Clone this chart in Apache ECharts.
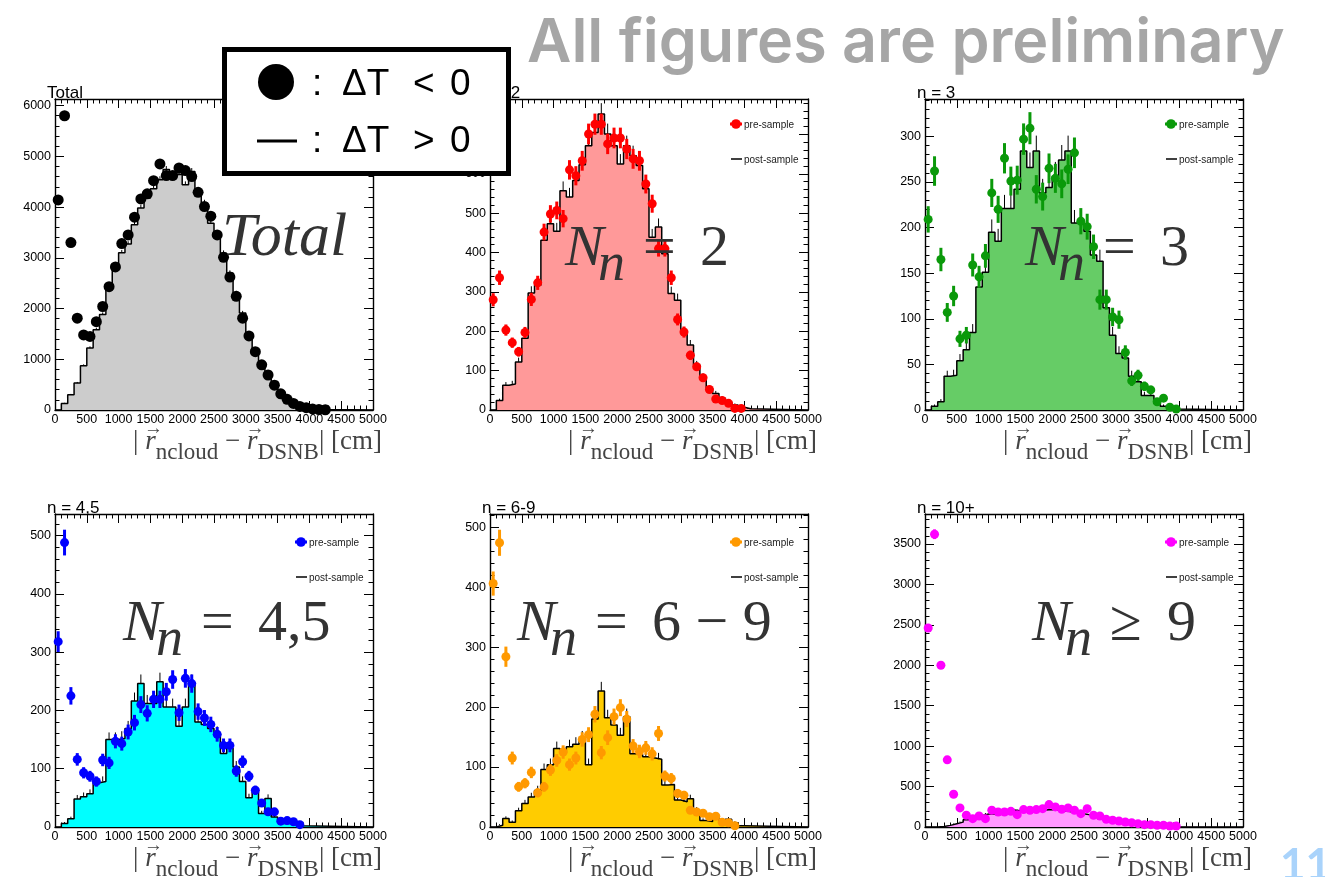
<!DOCTYPE html>
<html>
<head>
<meta charset="utf-8">
<script src="https://cdn.jsdelivr.net/npm/echarts@6/dist/echarts.min.js"></script>
<style>
  html, body { margin: 0; padding: 0; background: #fff; }
  #chart { width: 1325px; height: 877px; }
</style>
</head>
<body>
<div id="chart"></div>
<script>
// Histograms of |r_ncloud - r_DSNB| in 100 cm bins, one array per neutron multiplicity.
// "pre" = ΔT < 0 sample (points), "post" = ΔT > 0 sample (filled step histogram).
const BIN_WIDTH = 100;
const X_MAX = 5000;

const totalPre  = [4140, 5800, 3300, 1810, 1480, 1450, 1740, 2040, 2430, 2820, 3280, 3450, 3800, 4160, 4260, 4520, 4850, 4620, 4620, 4770, 4720, 4600, 4290, 4010, 3820, 3450, 3010, 2620, 2240, 1810, 1460, 1150, 890, 690, 490, 320, 210, 130, 70, 45, 20, 10, 5];
const totalPost = [0, 130, 300, 530, 870, 1220, 1580, 1880, 2400, 2760, 3100, 3270, 3650, 3980, 4180, 4360, 4540, 4740, 4600, 4640, 4440, 4700, 4310, 4080, 3680, 3420, 3090, 2700, 2300, 1910, 1450, 1180, 920, 760, 560, 360, 250, 160, 100, 55, 35, 20, 10];

const n2Pre  = [280, 336, 203, 171, 148, 197, 281, 323, 452, 498, 507, 486, 610, 595, 633, 701, 726, 726, 676, 691, 691, 663, 638, 633, 574, 524, 410, 410, 336, 230, 198, 139, 110, 82, 52, 28, 24, 17, 4, 4];
const n2Post = [0, 24, 63, 66, 122, 182, 297, 317, 431, 473, 454, 557, 541, 583, 623, 671, 705, 752, 701, 671, 625, 671, 646, 621, 562, 439, 465, 397, 296, 279, 194, 165, 114, 84, 55, 42, 30, 21, 13, 7, 3];

const n3Pre  = [209, 262, 165, 107, 125, 78, 82, 159, 146, 169, 238, 220, 276, 251, 252, 297, 309, 242, 234, 265, 254, 248, 264, 282, 207, 201, 179, 121, 121, 102, 99, 63, 32, 38, 26, 22, 9, 13, 3, 1];
const n3Post = [0, 4, 9, 37, 38, 54, 66, 85, 135, 151, 195, 185, 221, 221, 242, 284, 266, 284, 238, 244, 256, 274, 284, 205, 205, 196, 170, 163, 112, 82, 62, 57, 37, 31, 16, 16, 7, 4, 2, 1];

const n45Pre  = [318, 488, 225, 116, 93, 87, 78, 115, 110, 147, 143, 163, 179, 210, 195, 219, 219, 232, 253, 196, 255, 246, 198, 187, 176, 159, 140, 140, 96, 112, 87, 63, 41, 26, 26, 10, 11, 9, 4];
const n45Post = [0, 6, 14, 48, 52, 57, 76, 78, 150, 150, 152, 169, 216, 246, 212, 212, 249, 206, 206, 173, 206, 246, 180, 176, 169, 160, 126, 135, 103, 78, 50, 60, 23, 49, 17, 11, 6, 4, 2];

const n69Pre  = [406, 474, 284, 115, 67, 73, 91, 57, 67, 95, 111, 125, 104, 115, 146, 154, 188, 124, 149, 184, 199, 180, 135, 126, 132, 122, 156, 85, 81, 56, 53, 28, 25, 23, 17, 18, 8, 7, 2];
const n69Post = [0, 3, 14, 8, 27, 39, 50, 61, 96, 104, 131, 124, 134, 138, 148, 104, 180, 227, 182, 170, 153, 184, 122, 121, 117, 115, 113, 70, 71, 45, 42, 47, 28, 11, 9, 17, 9, 13, 7, 2];

const n10Pre  = [2460, 3620, 2000, 830, 405, 236, 145, 103, 136, 103, 207, 186, 186, 194, 153, 215, 207, 215, 227, 277, 248, 219, 236, 207, 165, 227, 145, 136, 95, 83, 74, 62, 54, 41, 29, 29, 21, 21, 12, 12];
const n10Post = [0, 0, 5, 20, 40, 60, 90, 110, 140, 160, 160, 180, 200, 210, 200, 215, 205, 215, 210, 215, 210, 200, 190, 175, 165, 150, 130, 110, 90, 75, 65, 55, 45, 35, 25, 20, 15, 10, 6, 3];

const panelTitles = ['Total', 'n = 2', 'n = 3', 'n = 4,5', 'n = 6-9', 'n = 10+'];
const yMaxes      = [6130, 790, 341, 537, 522, 3870];
const yIntervals  = [1000, 100, 50, 100, 100, 500];
const legendLabels = ['pre-sample', 'post-sample'];
const multiplicityLabels = [null, ['=', '2'], ['=', '3'], ['=', '4,5'], ['=', '6 \u2212 9'], ['\u2265', '9']];

const preSets  = [totalPre, n2Pre, n3Pre, n45Pre, n69Pre, n10Pre];
const postSets = [totalPost, n2Post, n3Post, n45Post, n69Post, n10Post];

// ---- styling / layout ----
const fills   = ['#cccccc', '#ff9999', '#66cc66', '#00ffff', '#ffcc00', '#ff99ff'];
const markers = ['#000000', '#ff0000', '#0a990a', '#0000ff', '#ff9900', '#ff00ff'];
const colLeft = [55, 490, 925];
const PANEL_W = 318;
const rowBox  = [{ top: 99, height: 311 }, { top: 514, height: 313 }];
// big label anchor (left x, baseline) per panel
const bigAnchor = [[222, 255], [565, 265], [1025, 265], [123, 640], [517, 640], [1032, 640]];

const SANS = '"Liberation Sans", Arial, Helvetica, sans-serif';
const SERIF = '"Liberation Serif", "Times New Roman", serif';

const mctx = document.createElement('canvas').getContext('2d');
function textWidth(s, font) { mctx.font = font; return mctx.measureText(s).width; }
function midLift(font) {
  mctx.font = font;
  mctx.textBaseline = 'alphabetic';
  const a = mctx.measureText('H').fontBoundingBoxAscent;
  mctx.textBaseline = 'middle';
  const m = mctx.measureText('H').fontBoundingBoxAscent;
  mctx.textBaseline = 'alphabetic';
  const d = a - m;
  if (isFinite(d)) return d;
  return 0.3 * parseFloat(font.match(/([\d.]+)px/)[1]);
}
// text element positioned by its alphabetic baseline
function txt(text, x, baseline, font, fill, align, z) {
  return {
    type: 'text', x: x, y: baseline - midLift(font), z: z || 50, silent: true,
    style: { text: text, font: font, fill: fill, textAlign: align || 'left', textVerticalAlign: 'middle' }
  };
}

const grids = [], xAxes = [], yAxes = [], series = [], graphics = [];

function axisBase(max, interval, showLabel, labelMargin) {
  return {
    type: 'value', min: 0, max: max, interval: interval,
    axisLine: { show: true, onZero: false, lineStyle: { color: '#000', width: 1.4 } },
    axisTick: { show: true, inside: true, length: 9, lineStyle: { color: '#000', width: 1 } },
    minorTick: { show: true, splitNumber: 5, length: 4.5, lineStyle: { color: '#000', width: 1 } },
    splitLine: { show: false }, minorSplitLine: { show: false },
    axisLabel: {
      show: showLabel, color: '#000', fontFamily: SANS, fontSize: 12.5, margin: labelMargin,
      // plain integers, only on multiples of the tick step
      formatter: v => (Math.abs(v / interval - Math.round(v / interval)) < 1e-6 ? String(Math.round(v)) : '')
    }
  };
}

for (let i = 0; i < 6; i++) {
  const left = colLeft[i % 3];
  const rb = rowBox[Math.floor(i / 3)];
  grids.push({ left: left, top: rb.top, width: PANEL_W, height: rb.height, containLabel: false });

  xAxes.push(Object.assign(axisBase(X_MAX, 500, true, 3), { gridIndex: i, position: 'bottom' }));
  xAxes.push(Object.assign(axisBase(X_MAX, 500, false, 3), { gridIndex: i, position: 'top' }));
  yAxes.push(Object.assign(axisBase(yMaxes[i], yIntervals[i], true, 4), { gridIndex: i, position: 'left' }));
  yAxes.push(Object.assign(axisBase(yMaxes[i], yIntervals[i], false, 4), { gridIndex: i, position: 'right' }));

  const xi = 2 * i, yi = 2 * i;
  const pre = preSets[i], post = postSets[i];

  // step outline of the post-sample histogram
  const steps = [];
  post.forEach((v, b) => { steps.push([b * BIN_WIDTH, v]); steps.push([(b + 1) * BIN_WIDTH, v]); });
  steps.push([post.length * BIN_WIDTH, 0]);
  steps.push([X_MAX, 0]);

  series.push({
    type: 'line', xAxisIndex: xi, yAxisIndex: yi, data: steps, showSymbol: false, symbol: 'none',
    lineStyle: { color: '#000', width: 1.5 }, areaStyle: { color: fills[i], opacity: 1 },
    z: 2, silent: true, animation: false
  });

  // Poisson error bars on the histogram (thin black, lower half sits under the fill)
  series.push({
    type: 'custom', xAxisIndex: xi, yAxisIndex: yi, z: 3, silent: true, animation: false,
    data: post.map((v, b) => [(b + 0.5) * BIN_WIDTH, v]).filter(d => d[1] > 0),
    encode: { x: 0, y: 1 },
    renderItem: function (params, api) {
      const x = api.value(0), y = api.value(1), e = Math.sqrt(y);
      const p1 = api.coord([x, y]), p2 = api.coord([x, y + e]);
      return { type: 'line', shape: { x1: p1[0], y1: p1[1], x2: p2[0], y2: p2[1] },
               style: { stroke: '#000', lineWidth: 1 } };
    }
  });

  // Poisson error bars on the points
  series.push({
    type: 'custom', xAxisIndex: xi, yAxisIndex: yi, z: 4, silent: true, animation: false,
    data: pre.map((v, b) => [(b + 0.5) * BIN_WIDTH, v]),
    encode: { x: 0, y: 1 },
    renderItem: function (params, api) {
      const x = api.value(0), y = api.value(1), e = Math.sqrt(y);
      const p1 = api.coord([x, Math.max(0, y - e)]), p2 = api.coord([x, y + e]);
      return { type: 'line', shape: { x1: p1[0], y1: p1[1], x2: p2[0], y2: p2[1] },
               style: { stroke: markers[i], lineWidth: 3 } };
    }
  });

  series.push({
    type: 'scatter', xAxisIndex: xi, yAxisIndex: yi, z: 5, silent: true, animation: false,
    data: pre.map((v, b) => [(b + 0.5) * BIN_WIDTH, v]),
    symbol: 'circle', symbolSize: i === 0 ? 11 : 9,
    itemStyle: { color: markers[i], opacity: 1 }
  });

  // panel title above the frame
  graphics.push(txt(panelTitles[i], left - 8, rb.top - 1, '17px ' + SANS, '#000', 'left', 40));

  // in-frame legend
  if (i > 0) {
    const r = left + PANEL_W;
    const ly1 = rb.top + 25 + (i > 2 ? 3 : 0), ly2 = rb.top + 60 + (i > 2 ? 3 : 0);
    graphics.push({ type: 'line', z: 40, silent: true, shape: { x1: r - 78, y1: ly1, x2: r - 66, y2: ly1 },
                    style: { stroke: markers[i], lineWidth: 3 } });
    graphics.push({ type: 'circle', z: 41, silent: true, shape: { cx: r - 72, cy: ly1, r: 4.8 },
                    style: { fill: markers[i] } });
    graphics.push(txt(legendLabels[0], r - 64, ly1 + 3.5, '10px ' + SANS, '#222', 'left', 41));
    graphics.push({ type: 'line', z: 40, silent: true, shape: { x1: r - 77, y1: ly2, x2: r - 66, y2: ly2 },
                    style: { stroke: '#000', lineWidth: 1.5 } });
    graphics.push(txt(legendLabels[1], r - 64, ly2 + 3.5, '10px ' + SANS, '#222', 'left', 41));
  }

  // big category label
  const [ax, ab] = bigAnchor[i];
  const bigCol = '#333333';
  if (i === 0) {
    graphics.push(txt('Total', ax, ab, 'italic 62px ' + SERIF, bigCol, 'left', 60));
  } else {
    const [op, val] = multiplicityLabels[i];
    graphics.push(txt('N', ax, ab, 'italic 58px ' + SERIF, bigCol, 'left', 60));
    graphics.push(txt('n', ax + 33, ab + 15, 'italic 54px ' + SERIF, bigCol, 'left', 60));
    graphics.push(txt(op, ax + 78, ab, '58px ' + SERIF, bigCol, 'left', 60));
    graphics.push(txt(val, ax + 135, ab, '58px ' + SERIF, bigCol, 'left', 60));
  }

  // x-axis title |r_ncloud - r_DSNB| [cm], right aligned under the frame
  const mainF = '27px ' + SERIF, itF = 'italic 27px ' + SERIF, subF = '23px ' + SERIF;
  const parts = [
    { t: '| ', f: mainF, dy: 0 },
    { t: 'r', f: itF, dy: 0, vec: true },
    { t: 'ncloud', f: subF, dy: 10 },
    { t: ' \u2212 ', f: mainF, dy: 0 },
    { t: 'r', f: itF, dy: 0, vec: true },
    { t: 'DSNB', f: subF, dy: 10 },
    { t: '| [cm]', f: mainF, dy: 0 }
  ];
  const titleBase = rb.top + rb.height + 39;
  const total = parts.reduce((s, p) => s + textWidth(p.t, p.f), 0);
  let cx = left + PANEL_W + 9 - total;
  parts.forEach(p => {
    const w = textWidth(p.t, p.f);
    graphics.push(txt(p.t, cx, titleBase + p.dy, p.f, '#444', 'left', 40));
    if (p.vec) graphics.push(txt('\u2192', cx + w / 2 + 3, titleBase - 15, '19px ' + SANS, '#444', 'center', 40));
    cx += w;
  });
}

// ΔT key box
graphics.push({ type: 'rect', z: 100, silent: true, shape: { x: 224.5, y: 49.5, width: 284, height: 124 },
                style: { fill: '#fff', stroke: '#000', lineWidth: 5 } });
graphics.push({ type: 'circle', z: 101, silent: true, shape: { cx: 276, cy: 82, r: 18 }, style: { fill: '#000' } });
graphics.push({ type: 'line', z: 101, silent: true, shape: { x1: 257, y1: 141, x2: 297, y2: 141 },
                style: { stroke: '#000', lineWidth: 3 } });
const keyF = '37px ' + SANS;
[[95, '<'], [152, '>']].forEach(([bl, sym]) => {
  graphics.push(txt(':', 312, bl, keyF, '#000', 'left', 101));
  graphics.push(txt('\u0394T', 342, bl, keyF, '#000', 'left', 101));
  graphics.push(txt(sym, 413, bl, keyF, '#000', 'left', 101));
  graphics.push(txt('0', 450, bl, keyF, '#000', 'left', 101));
});

// header note
const headText = 'All figures are preliminary';
const headFont = s => '600 ' + s.toFixed(1) + 'px Inter, Lato, sans-serif';
let headSize = 60;
headSize = headSize * 758 / textWidth(headText, headFont(headSize));
graphics.push(txt(headText, 527, 62, headFont(headSize), '#a6a6a6', 'left', 110));

// slide number
graphics.push(txt('11', 1280, 880, 'bold 44px Lato', '#a9d3fb', 'left', 110));

const chart = echarts.init(document.getElementById('chart'), null, { renderer: 'canvas', width: 1325, height: 877 });
chart.setOption({
  animation: false,
  backgroundColor: '#ffffff',
  grid: grids,
  xAxis: xAxes,
  yAxis: yAxes,
  series: series,
  graphic: { elements: graphics }
});
</script>
</body>
</html>
